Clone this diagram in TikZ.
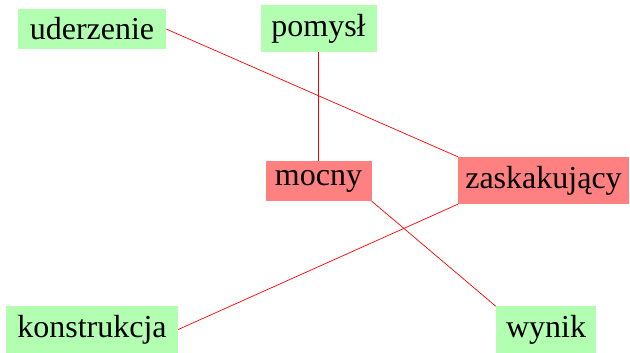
\documentclass[tikz,border=0pt]{standalone}
\usepackage{fontspec}
\setmainfont{Liberation Serif}
\begin{document}
\begin{tikzpicture}[x=1bp, y=-1bp,
  word/.style={inner xsep=4bp, inner ysep=9bp, font=\fontsize{32bp}{38bp}\selectfont, anchor=center},
  plain/.style={word, fill=green!30},
  strong/.style={word, fill=red!50},
  link/.style={draw=red, line width=0.7bp}]
\useasboundingbox (0,0) rectangle (630,352);

\node[plain, minimum width=148bp]  (ud) at (92,29)      {uderzenie};
\node[plain, minimum width=116bp]  (po) at (318.5,28.5) {pomysł};
\node[strong, minimum width=106bp] (mo) at (318.5,181)  {mocny};
\node[strong, minimum width=171bp] (za) at (543.5,180.5){zaskakujący};
\node[plain, minimum width=172bp]  (ko) at (92,329.5)   {konstrukcja};
\node[plain, minimum width=100bp]  (wy) at (546,330)    {wynik};

\draw[link] (ud.east) -- (za.north west);
\draw[link] (po.south) -- (mo.north);
\draw[link] (mo.south east) -- (wy.north west);
\draw[link] (za.south west) -- (ko.east);
\end{tikzpicture}
\end{document}
